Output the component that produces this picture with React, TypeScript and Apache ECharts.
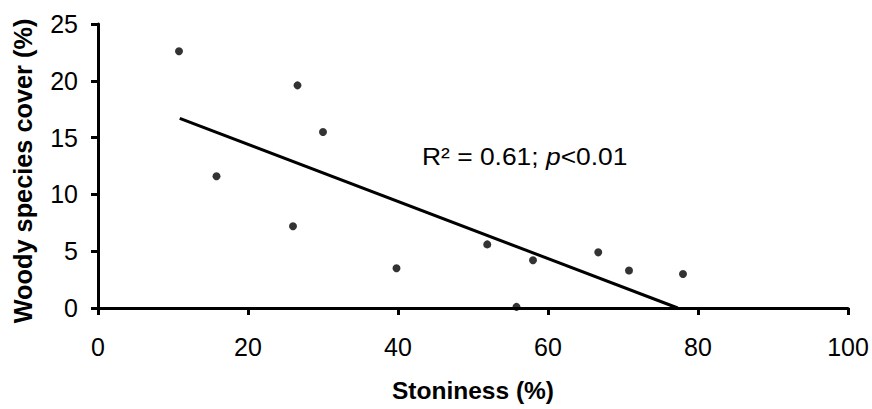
import React, { useEffect, useRef } from "react";
import * as echarts from "echarts";

const stoniness = [10.8, 15.8, 26.0, 26.6, 30.0, 39.8, 51.9, 55.8, 58.0, 66.7, 70.8, 78.0];
const woodyCover = [22.6, 11.6, 7.2, 19.6, 15.5, 3.5, 5.6, 0.1, 4.2, 4.9, 3.3, 3.0];
const trendX = [10.9, 77.3];
const trendY = [16.7, 0];
const xTicks = [0, 20, 40, 60, 80, 100];
const yTicks = [0, 5, 10, 15, 20, 25];
const annotation = "{a|R² = 0.61; }{i|p}{a|<0.01}";

const FONT = "'Liberation Sans', Arial, sans-serif";

export default function App() {
  const ref = useRef<HTMLDivElement>(null);
  useEffect(() => {
    document.body.style.margin = "0";
    if (!ref.current) return;
    const chart = echarts.init(ref.current, null, { renderer: "svg" });
    const axisCommon = {
      axisLine: { show: true, lineStyle: { color: "#000", width: 3 } },
      axisTick: { show: true, inside: false, length: 7, lineStyle: { color: "#000", width: 3 } },
      splitLine: { show: false },
    };
    chart.setOption({
      animation: false,
      backgroundColor: "#fff",
      grid: { left: 98, right: 24, top: 24, bottom: 101, containLabel: false, outerBoundsMode: "none" },
      xAxis: {
        type: "value",
        min: xTicks[0],
        max: xTicks[xTicks.length - 1],
        interval: xTicks[1] - xTicks[0],
        name: "Stoniness (%)",
        nameLocation: "middle",
        nameGap: 70,
        nameTextStyle: { fontFamily: FONT, fontSize: 24.5, fontWeight: "bold", color: "#000" },
        axisLabel: { fontFamily: FONT, fontSize: 25, color: "#000", margin: 26 },
        ...axisCommon,
      },
      yAxis: {
        type: "value",
        min: yTicks[0],
        max: yTicks[yTicks.length - 1],
        interval: yTicks[1] - yTicks[0],
        name: "Woody species cover (%)",
        nameLocation: "middle",
        nameGap: 63,
        nameTextStyle: { fontFamily: FONT, fontSize: 25.3, fontWeight: "bold", color: "#000", padding: [0, 10, 0, 0] },
        axisLabel: { fontFamily: FONT, fontSize: 25, color: "#000", margin: 20 },
        ...axisCommon,
      },
      series: [
        {
          type: "scatter",
          data: stoniness.map((x, i) => [x, woodyCover[i]]),
          symbol: "circle",
          symbolSize: 8,
          itemStyle: { color: "#000" },
          z: 3,
        },
        {
          type: "line",
          data: trendX.map((x, i) => [x, trendY[i]]),
          showSymbol: false,
          symbol: "none",
          lineStyle: { color: "#000", width: 3 },
          z: 2,
        },
      ],
      graphic: [
        {
          type: "text",
          x: 422,
          y: 156,
          scaleX: 1.1,
          style: {
            text: annotation,
            fill: "#000",
            verticalAlign: "middle",
            align: "left",
            rich: {
              a: { fontFamily: FONT, fontSize: 24, fill: "#000" },
              i: { fontFamily: FONT, fontSize: 24, fontStyle: "italic", fill: "#000" },
            },
          },
        },
      ],
    });
    return () => chart.dispose();
  }, []);
  return <div ref={ref} style={{ width: 872, height: 409 }} />;
}
